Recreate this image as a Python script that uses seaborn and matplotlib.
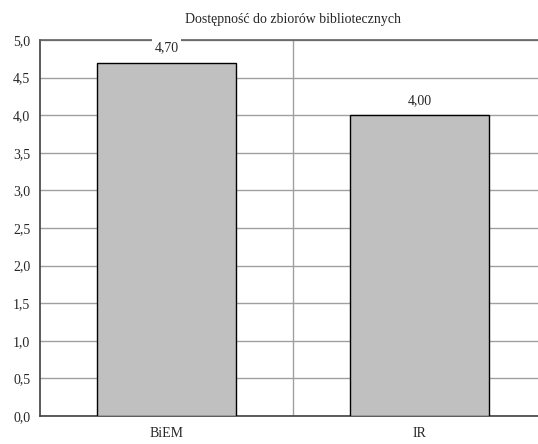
import matplotlib
matplotlib.use("Agg")
import matplotlib.pyplot as plt
import seaborn as sns
import pandas as pd

categories = ["BiEM", "IR"]
values = [4.70, 4.00]
y_ticks = [0.0, 0.5, 1.0, 1.5, 2.0, 2.5, 3.0, 3.5, 4.0, 4.5, 5.0]
title = "Dostępność do zbiorów bibliotecznych"

df = pd.DataFrame({"kat": categories, "val": values})

sns.set_style("white")
plt.rcParams['font.family'] = ['Liberation Serif', 'DejaVu Serif']

fig = plt.figure(figsize=(5.38, 4.44), dpi=100)
ax = fig.add_axes([40 / 538, 28 / 444, 506 / 538, 376 / 444])

sns.barplot(data=df, x="kat", y="val", color="#c0c0c0", edgecolor="black",
            linewidth=1, width=0.553, saturation=1, ax=ax, zorder=3)

ax.set_xlim(-0.5, 1.5)
ax.set_ylim(0, 5)
ax.set_yticks(y_ticks)
ax.set_yticklabels([f"{t:.1f}".replace(".", ",") for t in y_ticks], fontsize=10)
ax.set_xticks(range(len(categories)))
ax.set_xticklabels(categories, fontsize=10)
ax.set_xticks([0.5], minor=True)
ax.tick_params(which="both", length=0)
ax.tick_params(axis="y", pad=7)
ax.tick_params(axis="x", pad=8)

ax.grid(axis="y", color="#a0a0a0", linewidth=1, zorder=0)
ax.grid(axis="x", which="minor", color="#a0a0a0", linewidth=1, zorder=0)
ax.set_axisbelow(True)

for s in ["left", "bottom"]:
    ax.spines[s].set_color("#404040")
    ax.spines[s].set_linewidth(1.2)
ax.spines["top"].set_color("#606060")
ax.spines["top"].set_linewidth(1.2)
ax.spines["right"].set_visible(False)

ax.set_xlabel("")
ax.set_ylabel("")
ax.set_title(title, fontsize=10, pad=12)

for i, v in enumerate(values):
    ax.annotate(f"{v:.2f}".replace(".", ","), (i, v), xytext=(0, 8),
                textcoords="offset points", ha="center", va="baseline", fontsize=10,
                bbox=dict(facecolor="white", edgecolor="none", pad=1.5), zorder=5)

fig.savefig("out.png", dpi=100)
